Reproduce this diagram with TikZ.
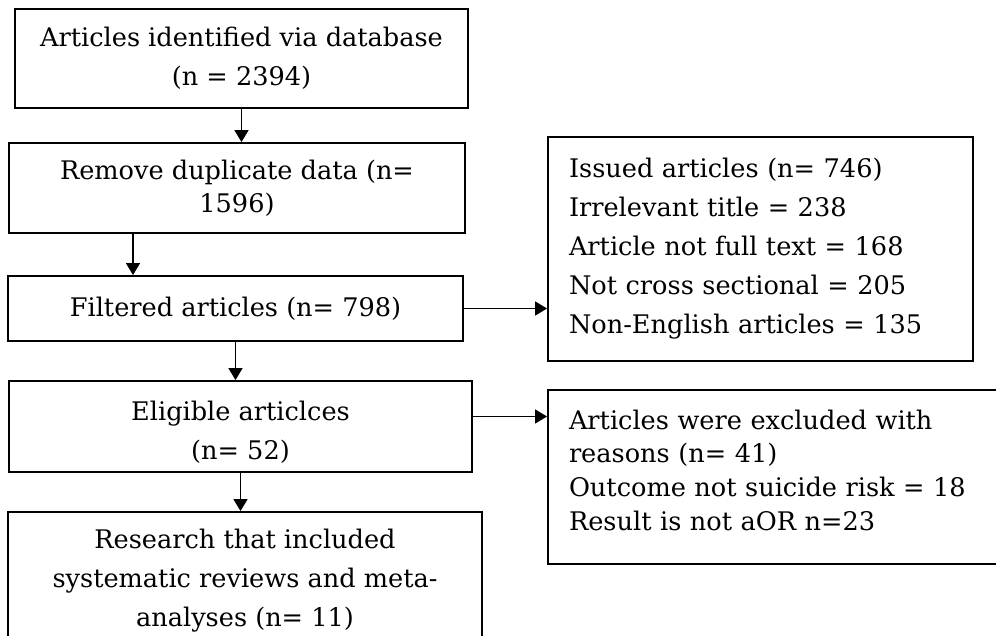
\documentclass[tikz,border=0pt]{standalone}
\usepackage{fontspec}
\setmainfont{DejaVu Serif}
\usetikzlibrary{arrows.meta}
\tikzset{
    box/.style={draw, rectangle, line width=0.9pt, align=center, inner sep=0pt, font=\fontsize{12.8}{19.5}\selectfont},
    listbox/.style={box, align=left, inner xsep=10.5pt},
    arrow/.style={-{Triangle[length=6pt, width=7pt]}, line width=0.6pt}
}

\begin{document}
\begin{tikzpicture}[x=0.5pt, y=-0.5pt]
\useasboundingbox (0,0) rectangle (996,636);
% main column
\node[box, minimum width=226.5pt, minimum height=49.5pt] (ident) at (241.5,58.5) {Articles identified via database\\(n = 2394)};
\node[box, minimum width=228pt, minimum height=45pt, font=\fontsize{12.8}{16.5}\selectfont] (remove) at (237,188) {Remove duplicate data (n=\\1596)};
\node[box, minimum width=227.5pt, minimum height=32.5pt] (filtered) at (235.5,308.5) {Filtered articles (n= 798)};
\node[box, minimum width=231.5pt, minimum height=45.5pt, text height=34.5pt] (eligible) at (240.5,426.5) {Eligible articlces\\(n= 52)};
\node[box, minimum width=237pt, minimum height=69pt] (research) at (245,581) {Research that included\\systematic reviews and meta-\\analyses (n= 11)};
% exclusions
\node[listbox, text width=191.5pt, minimum height=112pt] (issued) at (760.5,249) {Issued articles (n= 746)\\Irrelevant title = 238\\Article not full text = 168\\Not cross sectional = 205\\Non-English articles = 135};
\node[listbox, text width=207pt, minimum height=87pt, text depth=57.4pt, font=\fontsize{12.8}{16.8}\selectfont] (excluded) at (776,477) {Articles were excluded with\\reasons (n= 41)\\Outcome not suicide risk = 18\\Result is not aOR n=23};
\draw[arrow] (ident.south) -- (ident.south |- remove.north);
\draw[arrow] ([xshift=-52pt]remove.south) -- ([xshift=-52pt]remove.south |- filtered.north);
\draw[arrow] (filtered.south) -- (filtered.south |- eligible.north);
\draw[arrow] (eligible.south) -- (eligible.south |- research.north);
\draw[arrow] (filtered.east) -- (filtered.east -| issued.west);
\draw[arrow] ([yshift=5pt]eligible.east) -- ([yshift=5pt]eligible.east -| excluded.west);
\end{tikzpicture}
\end{document}
